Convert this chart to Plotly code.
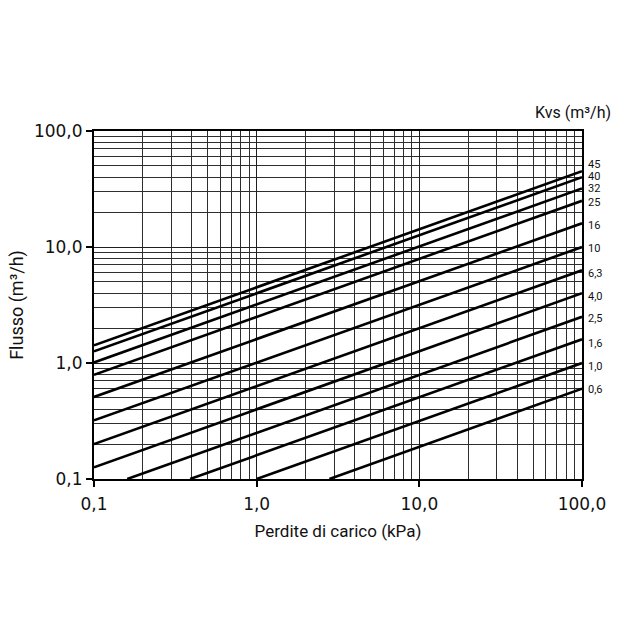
import math
import plotly.graph_objects as go

# Kvs curves (m3/h) - each straight line in log-log read at its two ends
kvs_labels = ["45", "40", "32", "25", "16", "10", "6,3", "4,0", "2,5", "1,6", "1,0", "0,6"]
kvs_values = [45, 40, 32, 25, 16, 10, 6.3, 4.0, 2.5, 1.6, 1.0, 0.6]
dp_start = [0.1, 0.1, 0.1, 0.1, 0.1, 0.1, 0.1, 0.1, 0.16, 0.39, 1.0, 2.8]
q_start = [1.42, 1.26, 1.01, 0.79, 0.51, 0.32, 0.2, 0.126, 0.1, 0.1, 0.1, 0.1]
dp_end = [100.0] * 12
q_end = [45, 40, 32, 25, 16, 10, 6.3, 4.0, 2.5, 1.6, 1.0, 0.6]
# vertical nudge (px) of each right-hand label so the crowded top ones stack like the original
label_shift = [7, 1, 0, -2, -2, -1, -3, -3, -2, -4, -3, -1]

major_vals = [0.1, 1, 10, 100]
major_text = ["0,1", "1,0", "10,0", "100,0"]
minor_vals = [m * d for d in [0.1, 1, 10] for m in range(2, 10)]

FONT = "Roboto"
TICKFONT = "DejaVu Sans"

fig = go.Figure()
for i in range(len(kvs_values)):
    fig.add_trace(go.Scatter(
        x=[dp_start[i], dp_end[i]], y=[q_start[i], q_end[i]],
        mode="lines", line=dict(color="black", width=2.6),
        showlegend=False, hoverinfo="skip"))

axis_common = dict(
    type="log", tickvals=major_vals, ticktext=major_text,
    showgrid=True, gridcolor="#1e1e1e", gridwidth=1.3,
    showline=True, linecolor="black", linewidth=2, mirror=True,
    ticks="outside", ticklen=6, tickwidth=1.5, tickcolor="black",
    tickfont=dict(family=TICKFONT, size=17, color="#111"),
    minor=dict(tickvals=minor_vals, showgrid=True, gridcolor="#2e2e2e", gridwidth=1.1, ticks=""),
    zeroline=False,
)

fig.update_xaxes(range=[-1, 2], ticklabelstandoff=3,
                 title=dict(text="Perdite di carico (kPa)", font=dict(family=FONT, size=17, color="#111"), standoff=12),
                 **axis_common)
fig.update_yaxes(range=[-1, 2],
                 title=dict(text="Flusso (m³/h)", font=dict(family=FONT, size=18, color="#111"), standoff=6),
                 **axis_common)

# Kvs labels on the right
for lab, v, s in zip(kvs_labels, kvs_values, label_shift):
    fig.add_annotation(x=1.0, xref="paper", y=math.log10(v), yref="y", yanchor="middle",
                       text=lab, showarrow=False, xanchor="left", xshift=4, yshift=s,
                       font=dict(family=FONT, size=11, color="#111"))

fig.add_annotation(x=(613 - 94) / 488, xref="paper", y=1 + (131 - 112) / 348, yref="paper",
                   text="Kvs (m³/h)", showarrow=False, xanchor="right", yanchor="middle",
                   font=dict(family=FONT, size=16, color="#111"))

fig.update_layout(
    width=640, height=640,
    margin=dict(l=94, r=58, t=131, b=161),
    paper_bgcolor="white", plot_bgcolor="white",
)

fig.write_html("out.html")
